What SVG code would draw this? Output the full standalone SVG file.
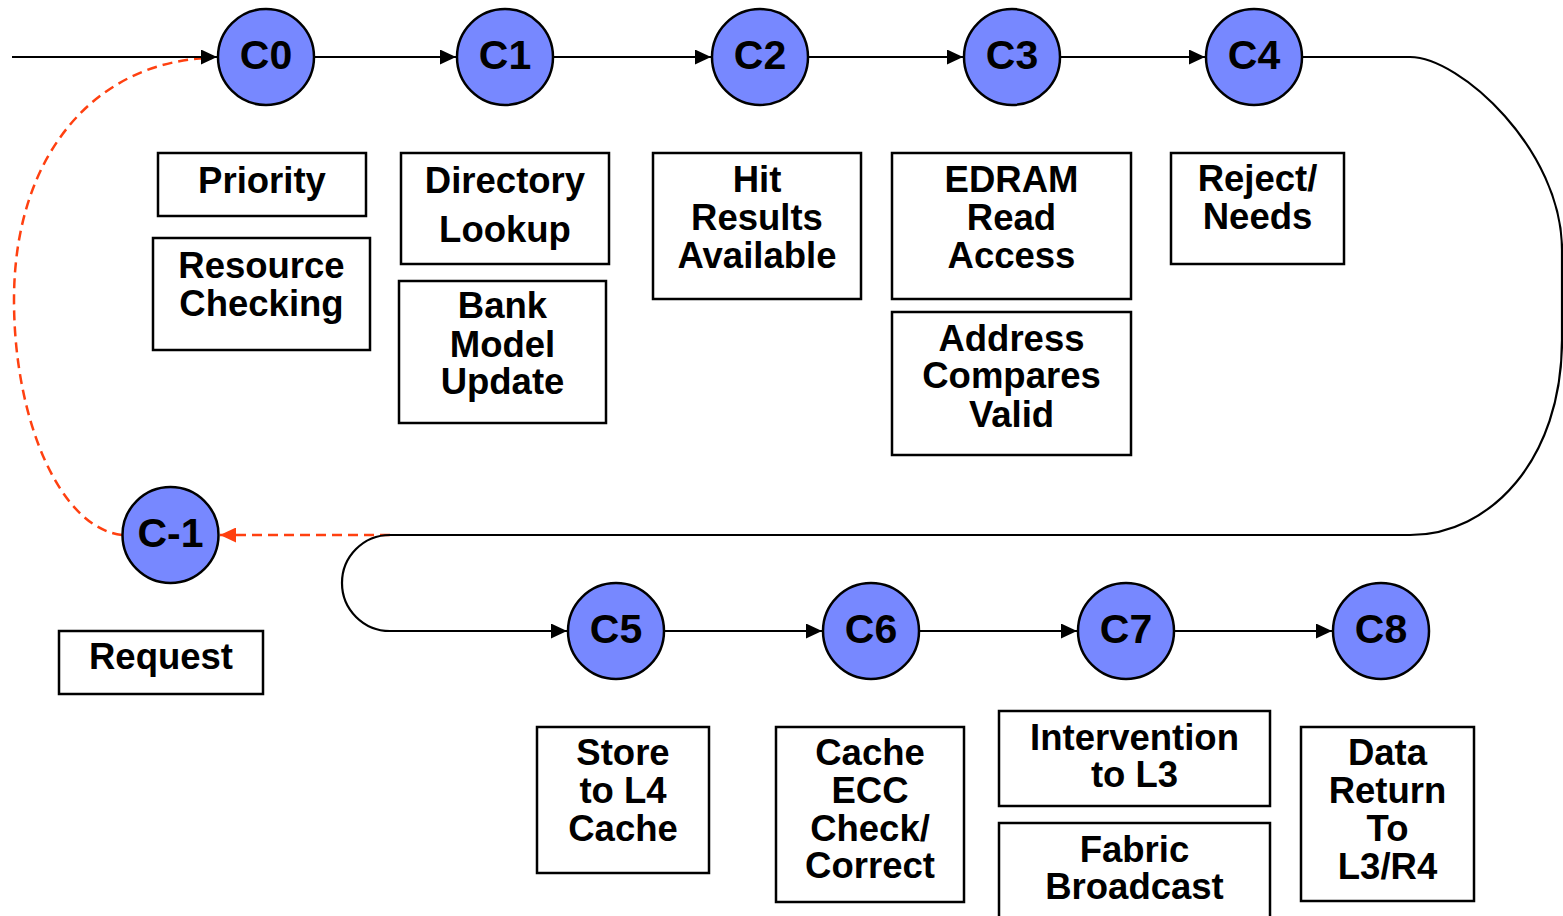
<svg xmlns="http://www.w3.org/2000/svg" width="1563" height="916" viewBox="0 0 1563 916">
  <defs>
    <style>
      .stage circle { fill: #7788ff; stroke: #000; stroke-width: 2.5; }
      .stage text { font-family: "Liberation Sans", Arial, Helvetica, sans-serif; font-weight: bold; font-size: 41px; text-anchor: middle; fill: #000; }
      .note rect { fill: #fff; stroke: #000; stroke-width: 2.5; }
      .note text { font-family: "Liberation Sans", Arial, Helvetica, sans-serif; font-weight: bold; font-size: 36.5px; text-anchor: middle; fill: #000; }
      .flow { fill: none; stroke: #000; stroke-width: 2.2; }
      .retry { fill: none; stroke: #ff4010; stroke-width: 2.5; stroke-dasharray: 10 6; }
    </style>
    <marker id="arrow" markerUnits="userSpaceOnUse" markerWidth="17" markerHeight="15" refX="16" refY="7.5" orient="auto">
      <path d="M0,0 L16,7.5 L0,15 z" fill="#000"/>
    </marker>
    <marker id="arrow-red" markerUnits="userSpaceOnUse" markerWidth="17" markerHeight="15" refX="16" refY="7.5" orient="auto">
      <path d="M0,0 L16,7.5 L0,15 z" fill="#ff4010"/>
    </marker>
  </defs>
  <rect width="1563" height="916" fill="#fff"/>

  <!-- connectors -->
  <g id="connectors">
    <!-- retry path back to C0 through C-1 -->
    <path class="retry" d="M390,535 L220,535" marker-end="url(#arrow-red)"/>
    <path class="retry" d="M122,535 C60,528 14,420 14,300 C14,150 100,60 212,58"/>
    <!-- main pipeline -->
    <path class="flow" d="M12,57 L217,57" marker-end="url(#arrow)"/>
    <path class="flow" d="M314,57 L456,57" marker-end="url(#arrow)"/>
    <path class="flow" d="M553,57 L711,57" marker-end="url(#arrow)"/>
    <path class="flow" d="M808,57 L963,57" marker-end="url(#arrow)"/>
    <path class="flow" d="M1060,57 L1205,57" marker-end="url(#arrow)"/>
    <!-- wrap from C4 around to C5 -->
    <path class="flow" d="M1302,57 L1410,57 C1460,57 1562,150 1562,250 L1562,340 C1562,460 1490,535 1410,535 L390,535 A48,48 0 0 0 390,631 L567,631" marker-end="url(#arrow)"/>
    <path class="flow" d="M664,631 L822,631" marker-end="url(#arrow)"/>
    <path class="flow" d="M919,631 L1077,631" marker-end="url(#arrow)"/>
    <path class="flow" d="M1174,631 L1332,631" marker-end="url(#arrow)"/>
  </g>

  <!-- pipeline stages -->
  <g id="stage-cm1" class="stage"><circle cx="170.5" cy="535" r="48"/><text x="170.5" y="547">C-1</text></g>
  <g id="stage-c0" class="stage"><circle cx="266" cy="57" r="48"/><text x="266" y="69">C0</text></g>
  <g id="stage-c1" class="stage"><circle cx="505" cy="57" r="48"/><text x="505" y="69">C1</text></g>
  <g id="stage-c2" class="stage"><circle cx="760" cy="57" r="48"/><text x="760" y="69">C2</text></g>
  <g id="stage-c3" class="stage"><circle cx="1012" cy="57" r="48"/><text x="1012" y="69">C3</text></g>
  <g id="stage-c4" class="stage"><circle cx="1254" cy="57" r="48"/><text x="1254" y="69">C4</text></g>
  <g id="stage-c5" class="stage"><circle cx="616" cy="631" r="48"/><text x="616" y="643">C5</text></g>
  <g id="stage-c6" class="stage"><circle cx="871" cy="631" r="48"/><text x="871" y="643">C6</text></g>
  <g id="stage-c7" class="stage"><circle cx="1126" cy="631" r="48"/><text x="1126" y="643">C7</text></g>
  <g id="stage-c8" class="stage"><circle cx="1381" cy="631" r="48"/><text x="1381" y="643">C8</text></g>

  <!-- stage descriptions -->
  <g id="note-request" class="note"><rect x="59" y="631" width="204" height="63"/><text x="161" y="669">Request</text></g>
  <g id="note-priority" class="note"><rect x="158" y="153" width="208" height="63"/><text x="262" y="193">Priority</text></g>
  <g id="note-resource" class="note"><rect x="153" y="238" width="217" height="112"/><text x="261.5" y="278">Resource</text><text x="261.5" y="316">Checking</text></g>
  <g id="note-directory" class="note"><rect x="401" y="153" width="208" height="111"/><text x="505" y="193">Directory</text><text x="505" y="242">Lookup</text></g>
  <g id="note-bank" class="note"><rect x="399" y="281" width="207" height="142"/><text x="502.5" y="318">Bank</text><text x="502.5" y="357">Model</text><text x="502.5" y="394">Update</text></g>
  <g id="note-hit" class="note"><rect x="653" y="153" width="208" height="146"/><text x="757" y="192">Hit</text><text x="757" y="230">Results</text><text x="757" y="268">Available</text></g>
  <g id="note-edram" class="note"><rect x="892" y="153" width="239" height="146"/><text x="1011.5" y="192">EDRAM</text><text x="1011.5" y="230">Read</text><text x="1011.5" y="268">Access</text></g>
  <g id="note-address" class="note"><rect x="892" y="312" width="239" height="143"/><text x="1011.5" y="351">Address</text><text x="1011.5" y="388">Compares</text><text x="1011.5" y="427">Valid</text></g>
  <g id="note-reject" class="note"><rect x="1171" y="153" width="173" height="111"/><text x="1257.5" y="191">Reject/</text><text x="1257.5" y="229">Needs</text></g>
  <g id="note-store" class="note"><rect x="537" y="727" width="172" height="146"/><text x="623" y="765">Store</text><text x="623" y="803">to L4</text><text x="623" y="841">Cache</text></g>
  <g id="note-ecc" class="note"><rect x="776" y="727" width="188" height="175"/><text x="870" y="765">Cache</text><text x="870" y="803">ECC</text><text x="870" y="841">Check/</text><text x="870" y="878">Correct</text></g>
  <g id="note-intervention" class="note"><rect x="999" y="711" width="271" height="95"/><text x="1134.5" y="750">Intervention</text><text x="1134.5" y="787">to L3</text></g>
  <g id="note-fabric" class="note"><rect x="999" y="823" width="271" height="110"/><text x="1134.5" y="862">Fabric</text><text x="1134.5" y="899">Broadcast</text></g>
  <g id="note-data" class="note"><rect x="1301" y="727" width="173" height="174"/><text x="1387.5" y="765">Data</text><text x="1387.5" y="803">Return</text><text x="1387.5" y="841">To</text><text x="1387.5" y="879">L3/R4</text></g>
</svg>
